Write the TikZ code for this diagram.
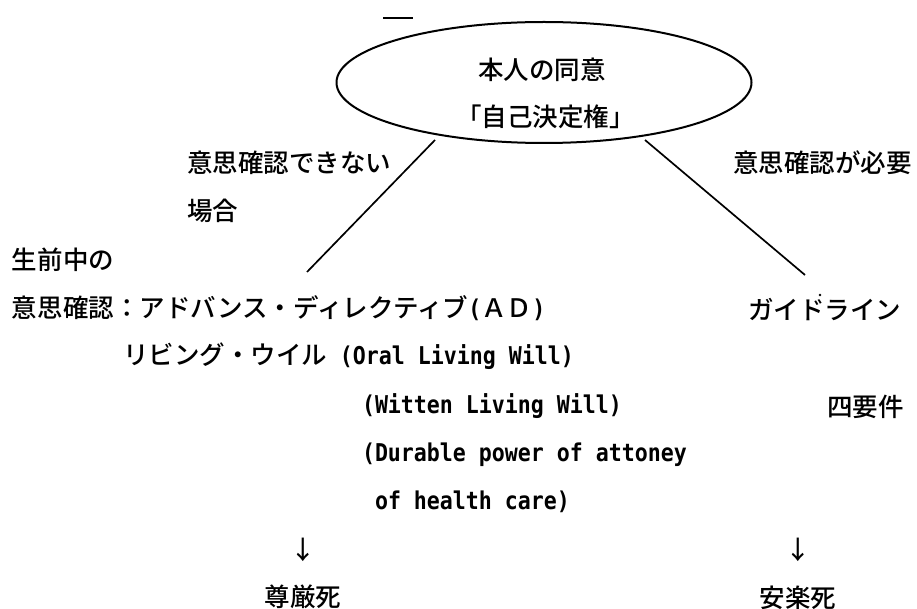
\documentclass[tikz,border=0pt]{standalone}
\usepackage{fontspec}
\usepackage{graphicx}
\newfontfamily\jp{Noto Sans CJK JP Medium}
\newfontfamily\mono{DejaVu Sans Mono}
\usetikzlibrary{shapes.geometric}
\newcommand{\mtxt}[1]{\scalebox{0.881}[1]{\mono\bfseries\fontsize{24.5}{28}\selectfont #1}}
\tikzset{
  jtext/.style={inner sep=0pt, outer sep=0pt, anchor=west, font=\jp\fontsize{25.5}{30}\selectfont},
  ctext/.style={inner sep=0pt, outer sep=0pt, anchor=center, font=\jp\fontsize{25.5}{30}\selectfont},
  mtext/.style={inner sep=0pt, outer sep=0pt, anchor=west},
  oval/.style={draw, ellipse, line width=2pt, minimum width=415pt, minimum height=121pt, inner sep=0pt},
  link/.style={line width=1.7pt}
}
\begin{document}
\begin{tikzpicture}[x=1pt,y=-1pt]
\useasboundingbox (0,0) rectangle (917,609);
% top mark
\coordinate (m1) at (383,18);
\coordinate (m2) at (413,18);
\draw[line width=2pt] (m1) -- (m2);
% central ellipse
\node[oval] (e) at (544,82.5) {};
\node[jtext] (t1) at (478,70) {本人の同意};
\node[jtext] (t2) at (456,117) {「自己決定権」};
% branch labels
\node[jtext] (a1) at (187,163) {意思確認できない};
\node[jtext] (a2) at (187,211) {場合};
\node[jtext] (b1) at (733,163) {意思確認が必要};
% connectors
\coordinate (ls) at (435,140);
\coordinate (le) at (307,272);
\coordinate (rs) at (645,140);
\coordinate (re) at (805,275);
\draw[link] (ls) -- (le);
\draw[link] (rs) -- (re);
\coordinate (dot) at (820,295);
\fill (dot) circle (1.3pt);
% left column
\node[jtext] (c1) at (12,260) {生前中の};
\node[jtext] (c2) at (12,308) {意思確認：アドバンス・ディレクティブ\mtxt{(}ＡＤ\mtxt{)}};
\node[jtext] (c3) at (123,356) {リビング・ウイル\mtxt{\ (Oral Living Will)}};
\node[mtext] (c4) at (362,406) {\mtxt{(Witten Living Will)}};
\node[mtext] (c5) at (362,455) {\mtxt{(Durable power of attoney}};
\node[mtext] (c6) at (375,502) {\mtxt{of health care)}};
\node[ctext] (ar1) at (303,550) {↓};
\node[ctext] (d1) at (303,597) {尊厳死};
% right column
\node[jtext] (g1) at (748,310) {ガイドライン};
\node[jtext] (g2) at (827,407) {四要件};
\node[ctext] (ar2) at (798,550) {↓};
\node[ctext] (d2) at (798,598) {安楽死};
\end{tikzpicture}
\end{document}
